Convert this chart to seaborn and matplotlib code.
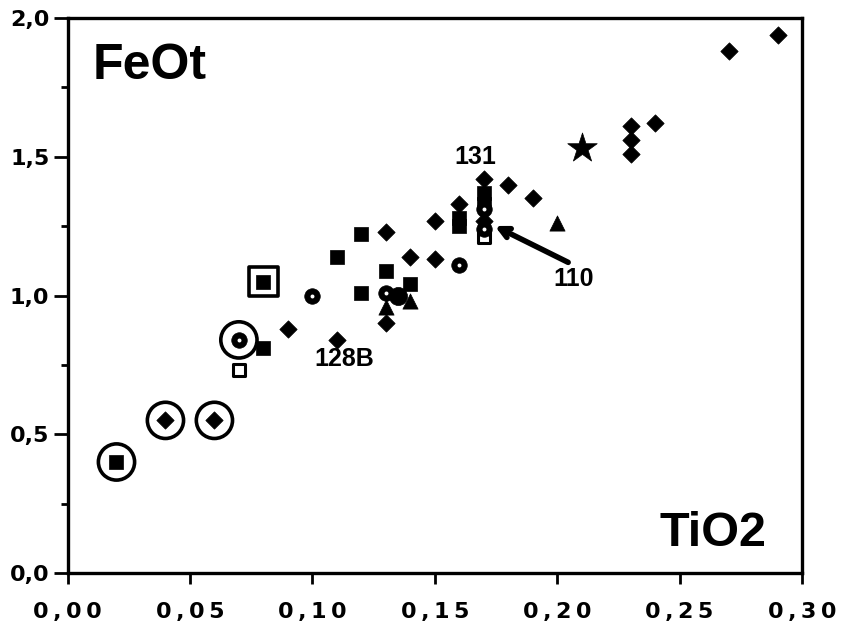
import matplotlib
matplotlib.use('Agg')
import matplotlib.pyplot as plt
import seaborn as sns

# filled diamonds
diam_x = [0.04, 0.06, 0.09, 0.11, 0.13, 0.13, 0.14, 0.15, 0.15, 0.16, 0.17, 0.17, 0.18, 0.19, 0.23, 0.23, 0.23, 0.24, 0.27, 0.29]
diam_y = [0.55, 0.55, 0.88, 0.84, 1.23, 0.90, 1.14, 1.27, 1.13, 1.33, 1.42, 1.27, 1.40, 1.35, 1.61, 1.56, 1.51, 1.62, 1.88, 1.94]
# filled squares
sq_x = [0.02, 0.08, 0.08, 0.11, 0.12, 0.12, 0.13, 0.14, 0.16, 0.16, 0.17, 0.17]
sq_y = [0.40, 0.81, 1.05, 1.14, 1.22, 1.01, 1.09, 1.04, 1.28, 1.25, 1.37, 1.33]
# open squares
osq_x = [0.07, 0.17]
osq_y = [0.73, 1.21]
# dotted symbols (filled with white centre)
dot_x = [0.07, 0.10, 0.13, 0.16, 0.17, 0.17]
dot_y = [0.84, 1.00, 1.01, 1.11, 1.31, 1.24]
# filled circle
circ_x = [0.135]
circ_y = [1.00]
# triangles
tri_x = [0.13, 0.14, 0.20]
tri_y = [0.96, 0.98, 1.26]
# star
star_x = [0.21]
star_y = [1.53]
# ringed samples
ring_x = [0.02, 0.04, 0.06, 0.07]
ring_y = [0.40, 0.55, 0.55, 0.84]
# boxed sample
box_x = [0.08]
box_y = [1.05]

# sample labels
lab_text = ['131', '110', '128B']
lab_x = [0.1665, 0.2067, 0.113]
lab_y = [1.50, 1.06, 0.77]

x_ticks = [0.00, 0.05, 0.10, 0.15, 0.20, 0.25, 0.30]
y_ticks = [0.0, 0.5, 1.0, 1.5, 2.0]

sns.set_style('ticks')
plt.rcParams['font.family'] = ['DejaVu Sans']
plt.rcParams['text.color'] = 'black'
plt.rcParams['xtick.color'] = 'black'
plt.rcParams['ytick.color'] = 'black'

fig = plt.figure(figsize=(8.42, 6.28), dpi=100)
ax = fig.add_axes([0.0802, 0.0876, 0.8723, 0.8837])

k = 'black'
sns.scatterplot(x=diam_x, y=diam_y, marker='D', s=78, color=k, edgecolor=k, linewidth=0.5, ax=ax)
sns.scatterplot(x=sq_x, y=sq_y, marker='s', s=95, color=k, edgecolor=k, linewidth=0.5, ax=ax)
sns.scatterplot(x=osq_x, y=osq_y, marker='s', s=70, facecolor='white', edgecolor=k, linewidth=2.2, ax=ax)
sns.scatterplot(x=dot_x, y=dot_y, marker='o', s=125, color=k, edgecolor=k, linewidth=0.5, ax=ax)
sns.scatterplot(x=dot_x, y=dot_y, marker='o', s=8, color='white', edgecolor='white', linewidth=0, ax=ax)
sns.scatterplot(x=circ_x, y=circ_y, marker='o', s=170, color=k, edgecolor=k, linewidth=0.5, ax=ax)
sns.scatterplot(x=tri_x, y=tri_y, marker='^', s=120, color=k, edgecolor=k, linewidth=0.5, ax=ax)
sns.scatterplot(x=star_x, y=star_y, marker='*', s=500, color=k, edgecolor=k, linewidth=0.5, ax=ax)
sns.scatterplot(x=ring_x, y=ring_y, marker='o', s=680, facecolor='none', edgecolor=k, linewidth=2.6, ax=ax)
sns.scatterplot(x=box_x, y=box_y, marker='s', s=420, facecolor='none', edgecolor=k, linewidth=2.6, ax=ax)

for t, x, y in zip(lab_text, lab_x, lab_y):
    ax.text(x, y, t, ha='center', va='center', fontsize=18, fontweight='bold',
            family='Liberation Sans', color=k)

ax.annotate('', xy=(0.1735, 1.255), xytext=(0.2055, 1.115),
            arrowprops=dict(arrowstyle='->,head_length=0.7,head_width=0.35', lw=4, color=k))

ax.text(0.034, 0.89, 'FeOt', transform=ax.transAxes, fontsize=36, fontweight='bold',
        family='Liberation Sans', ha='left', va='baseline', color=k)
ax.text(0.951, 0.049, 'TiO2', transform=ax.transAxes, fontsize=35, fontweight='bold',
        family='Liberation Sans', ha='right', va='baseline', color=k)

ax.set_xlim(0, 0.30)
ax.set_ylim(0, 2.0)
ax.set_xticks(x_ticks)
ax.set_xticklabels(['\u2009'.join(f'{v:.2f}'.replace('.', ',')) for v in x_ticks],
                   fontsize=16, fontweight='bold')
ax.set_yticks(y_ticks)
ax.set_yticklabels([f'{v:.1f}'.replace('.', ',') for v in y_ticks], fontsize=16, fontweight='bold')
ax.set_yticks([0.25, 0.75, 1.25, 1.75], minor=True)
ax.tick_params(axis='x', direction='out', length=8, width=2, pad=13)
ax.tick_params(axis='y', which='major', direction='out', length=10, width=2, pad=3)
ax.tick_params(axis='y', which='minor', direction='out', length=5, width=2)
ax.set_xlabel('')
ax.set_ylabel('')
for sp in ax.spines.values():
    sp.set_visible(True)
    sp.set_linewidth(2.4)
    sp.set_color(k)

fig.savefig('out.png', dpi=100)
